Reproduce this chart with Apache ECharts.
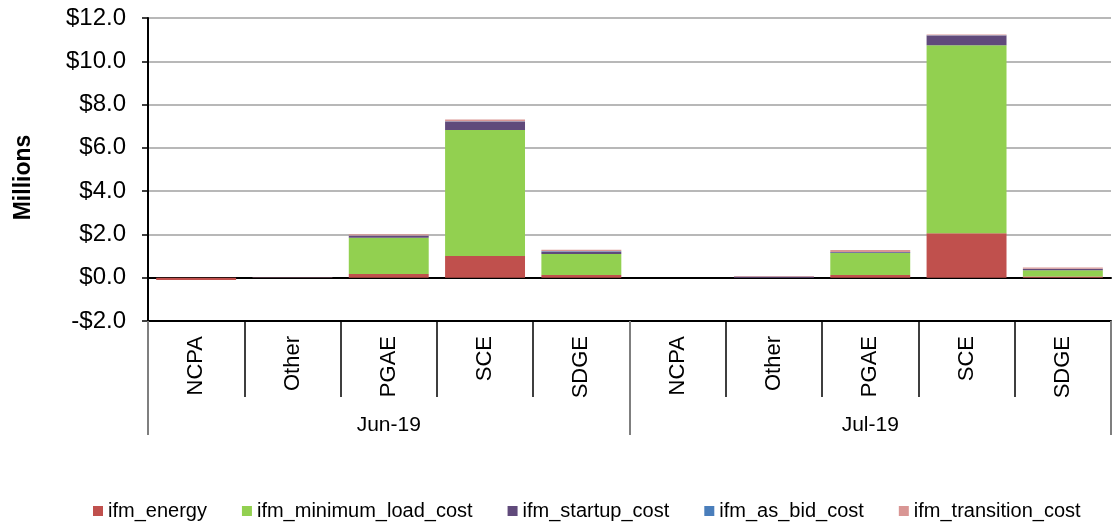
<!DOCTYPE html>
<html>
<head>
<meta charset="utf-8">
<script src="https://cdn.jsdelivr.net/npm/echarts@6/dist/echarts.min.js"></script>
<style>html,body{margin:0;padding:0;background:#fff}#c{width:1119px;height:524px}</style>
</head>
<body>
<div id="c"></div>
<script>
const categories = ['NCPA','Other','PGAE','SCE','SDGE','NCPA','Other','PGAE','SCE','SDGE'];
const months = ['Jun-19','Jul-19'];
const yTicks = [-2, 0, 2, 4, 6, 8, 10, 12];
const energy     = [-0.1,  0,    0.17, 1.00, 0.12, 0, 0,    0.12, 2.05, 0.06];
const minLoad    = [0,     0,    1.68, 5.82, 0.97, 0, 0,    1.02, 8.69, 0.29];
const startup    = [0,     0.01, 0.09, 0.40, 0.10, 0, 0.06, 0.04, 0.45, 0.05];
const asBid      = [0,     0,    0.01, 0.01, 0.03, 0, 0,    0.01, 0.01, 0.01];
const transition = [0,     0.01, 0.06, 0.08, 0.07, 0, 0.02, 0.09, 0.04, 0.06];

const FONT = '"Liberation Sans", Arial, sans-serif';
const seriesDefs = [
  ['ifm_energy', energy, '#C0504D'],
  ['ifm_minimum_load_cost', minLoad, '#92D050'],
  ['ifm_startup_cost', startup, '#604A7B'],
  ['ifm_as_bid_cost', asBid, '#4A7EBB'],
  ['ifm_transition_cost', transition, '#D99694']
];

const chart = echarts.init(document.getElementById('c'));
chart.setOption({
  animation: false,
  backgroundColor: '#fff',
  textStyle: { fontFamily: FONT },
  grid: { left: 148, right: 8, top: 18, bottom: 203, containLabel: false },
  legend: {
    left: 93, top: 501, padding: 0,
    itemWidth: 10, itemHeight: 10, itemGap: 35,
    icon: 'rect',
    textStyle: { fontFamily: FONT, fontSize: 20, color: '#000', padding: [0, 0, 0, 0] },
    data: seriesDefs.map(d => d[0])
  },
  xAxis: [
    {
      type: 'category', data: categories, position: 'bottom',
      axisLine: { onZero: false, lineStyle: { color: '#000', width: 2 } },
      axisTick: { show: true, length: 76, interval: 0, lineStyle: { color: '#000', width: 1.5 } },
      axisLabel: { interval: 0, rotate: 90, margin: 15, fontSize: 22, color: '#000', fontFamily: FONT },
      splitLine: { show: false }
    },
    {
      type: 'category', data: months, position: 'bottom', z: 5,
      axisLine: { show: false, onZero: false },
      axisTick: { show: true, length: 114, interval: 0, lineStyle: { color: '#7f7f7f', width: 2 } },
      axisLabel: { interval: 0, margin: 94, fontSize: 21, color: '#000', fontFamily: FONT },
      splitLine: { show: false }
    },
    {
      type: 'category', data: categories, position: 'bottom', z: 1,
      axisLine: { show: true, onZero: true, lineStyle: { color: '#000', width: 2 } },
      axisTick: { show: false }, axisLabel: { show: false }, splitLine: { show: false }
    }
  ],
  yAxis: {
    type: 'value', min: yTicks[0], max: yTicks[yTicks.length - 1], interval: 2,
    name: 'Millions', nameLocation: 'middle', nameGap: 113, nameRotate: 90,
    nameTextStyle: { fontFamily: FONT, fontSize: 23, fontWeight: 'bold', color: '#000', padding: [0, 16, 0, 0] },
    axisLine: { show: true, lineStyle: { color: '#000', width: 2 } },
    axisTick: { show: true, inside: false, length: 6, lineStyle: { color: '#000', width: 1.5 } },
    axisLabel: {
      margin: 22, fontSize: 24, color: '#000', fontFamily: FONT,
      formatter: v => (v < 0 ? '-' : '') + '$' + Math.abs(v).toFixed(1)
    },
    splitLine: { show: true, lineStyle: { color: '#a0a0a0', width: 1.5 } }
  },
  series: seriesDefs.map(d => ({
    name: d[0], type: 'bar', stack: 'total', data: d[1],
    xAxisIndex: 0, barCategoryGap: '17%', z: 3,
    itemStyle: { color: d[2] }
  }))
});
</script>
</body>
</html>
